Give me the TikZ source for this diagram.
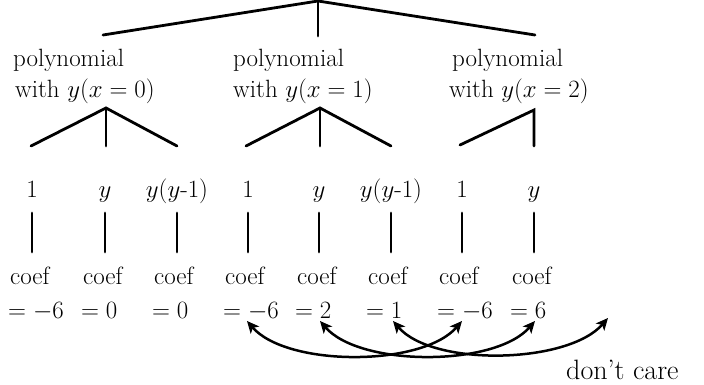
\documentclass[tikz,border=0pt]{standalone}
\usetikzlibrary{arrows.meta,calc}
\begin{document}
\begin{tikzpicture}[x=1pt,y=-1pt,
  tree/.style={line width=2.8pt, line cap=round},
  lbl/.style={font=\fontsize{25}{30}\selectfont, inner sep=0pt, anchor=base west},
  item/.style={font=\fontsize{25}{30}\selectfont, inner sep=0pt, anchor=base},
  arc/.style={line width=2.5pt, {Stealth[length=12pt,width=11pt,inset=3pt]}-{Stealth[length=12pt,width=11pt,inset=3pt]}}
]
\useasboundingbox (0,0) rectangle (704,385);

% top level
\coordinate (root) at (318,1);
\coordinate (t1) at (103,35);
\coordinate (t2) at (318,36);
\coordinate (t3) at (535,35);
\draw[tree] (t1) -- (root) -- (t3);
\draw[tree] (root) -- (t2);

% group labels
\node[lbl] (g1a) at (13,67) {polynomial};
\node[lbl] (g1b) at (15,98) {with $y(x=0)$};
\node[lbl] (g2a) at (233,67) {polynomial};
\node[lbl] (g2b) at (233,98) {with $y(x=1)$};
\node[lbl] (g3a) at (452,67) {polynomial};
\node[lbl] (g3b) at (449,98) {with $y(x=2)$};

% sub-trees
\coordinate (b1) at (106,108);
\coordinate (b1l) at (31,146);
\coordinate (b1m) at (106,146);
\coordinate (b1r) at (177,146);
\draw[tree] (b1l) -- (b1) -- (b1r);
\draw[tree] (b1) -- (b1m);

\coordinate (b2) at (320,108);
\coordinate (b2l) at (246,146);
\coordinate (b2m) at (320,146);
\coordinate (b2r) at (391,146);
\draw[tree] (b2l) -- (b2) -- (b2r);
\draw[tree] (b2) -- (b2m);

\coordinate (b3) at (534,110);
\coordinate (b3l) at (460,145);
\coordinate (b3m) at (534,146);
\draw[tree] (b3l) -- (b3) -- (b3m);

% items
\node[item] (i1) at (32,197) {$1$};
\node[item] (i2) at (105,197) {$y$};
\node[item] (i3) at (177,197) {$y(y$-$1)$};
\node[item] (i4) at (248,197) {$1$};
\node[item] (i5) at (319,197) {$y$};
\node[item] (i6) at (391,197) {$y(y$-$1)$};
\node[item] (i7) at (462,197) {$1$};
\node[item] (i8) at (534,197) {$y$};

% coef labels
\foreach \k/\c/\v in {1/32/-6, 2/105/0, 3/176/0, 4/247/-6, 5/319/2, 6/390/1, 7/461/-6, 8/534/6}{
  \node[lbl] (c\k) at (\c-22,284) {coef};
  \node[lbl] (v\k) at (\c-24,318) {$=\v$};
}

% vertical connectors
\foreach \k in {1,...,8}{
  \draw[tree, shorten <=16pt, shorten >=32pt] (i\k.base) -- (i\k.base |- c\k.base);
}

% don't care
\node[lbl, font=\fontsize{28}{33}\selectfont] (dc) at (566,379) {don't care};
\coordinate (dct) at (608,318);

% arrows
\draw[arc] ($(i4.base |- v4.base)+(-1,3)$) .. controls +(40,46) and +(-40,46) .. ($(i7.base |- v7.base)+(0,3)$);
\draw[arc] ($(i5.base |- v5.base)+(1,3)$) .. controls +(40,46) and +(-40,46) .. ($(i8.base |- v8.base)+(1,3)$);
\draw[arc] ($(i6.base |- v6.base)+(2,3)$) .. controls +(40,46) and +(-40,46) .. (dct);
\end{tikzpicture}
\end{document}
